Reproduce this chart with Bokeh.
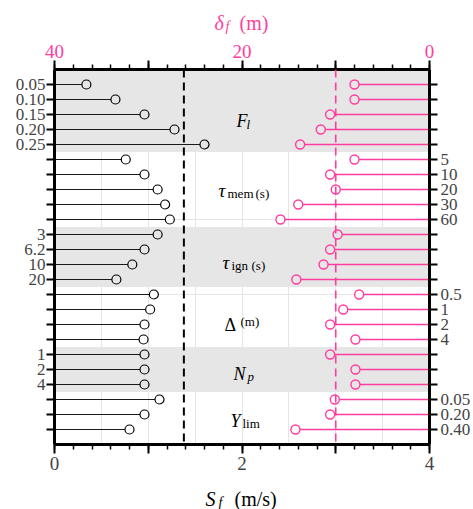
from bokeh.plotting import figure
from bokeh.layouts import column
from bokeh.models import (Range1d, LinearAxis, SingleIntervalTicker, FixedTicker,
                          CustomJSTickFormatter, Span, Label, ColumnDataSource)
from bokeh.embed import file_html
from bokeh.resources import INLINE

# ---------------- data ----------------
group_names = ["F_l", "tau_mem", "tau_ign", "Delta", "N_p", "Y_lim"]
group_sizes = [5, 5, 4, 4, 3, 3]
param_F_l = ["0.05", "0.10", "0.15", "0.20", "0.25"]
param_tau_mem = ["5", "10", "20", "30", "60"]
param_tau_ign = ["3", "6.2", "10", "20"]
param_Delta = ["0.5", "1", "2", "4"]
param_N_p = ["1", "2", "4"]
param_Y_lim = ["0.05", "0.20", "0.40"]

# flame speed S_f (m/s), one per row (top to bottom)
S_f = [0.34, 0.65, 0.96, 1.28, 1.60,
       0.76, 0.96, 1.10, 1.18, 1.23,
       1.10, 0.96, 0.83, 0.66,
       1.06, 1.02, 0.96, 0.95,
       0.96, 0.96, 0.96,
       1.12, 0.96, 0.80]
# flame thickness delta_f (m), one per row
delta_f = [8.0, 8.0, 10.6, 11.6, 13.8,
           8.0, 10.6, 10.0, 14.0, 15.9,
           9.8, 10.6, 11.3, 14.2,
           7.5, 9.2, 10.6, 7.9,
           10.6, 7.9, 7.9,
           10.1, 10.6, 14.3]
S_crit = 1.38
delta_crit = 10.0

PINK = "#ff3d9e"
GRAY = "#e6e6e6"
FONT = "Liberation Serif"

# ---------------- derived layout ----------------
rows = list(range(1, len(S_f) + 1))
left_labels = param_F_l + [""] * 5 + param_tau_ign + [""] * 4 + param_N_p + [""] * 3
right_labels = [""] * 5 + param_tau_mem + [""] * 4 + param_Delta + [""] * 3 + param_Y_lim

row_bg = []
edges = [0.0]
start = 1
for gi, n in enumerate(group_sizes):
    row_bg += [GRAY if gi % 2 == 0 else "white"] * n
    start += n
    edges.append(start - 0.5)
edges[-1] = 25.0

TOP_H, BOT_H, W = 34, 27, 473
MAIN_H = 509 - TOP_H - BOT_H

x_rng = Range1d(0, 4)
p = figure(width=W, height=MAIN_H, x_range=x_rng, y_range=Range1d(25, 0),
           output_backend="svg", toolbar_location=None, title=None,
           x_axis_location=None, y_axis_location=None,
           min_border_left=54, min_border_right=44,
           min_border_top=69 - TOP_H, min_border_bottom=MAIN_H - (444 - TOP_H))
p.extra_x_ranges = {"d": Range1d(40, 0)}
p.outline_line_color = None
p.background_fill_color = "white"
p.border_fill_color = "white"

# shaded bands
band_top = [edges[i] for i in range(0, len(group_sizes), 2)]
band_bot = [edges[i + 1] for i in range(0, len(group_sizes), 2)]
p.quad(left=0, right=4, top=band_top, bottom=band_bot, fill_color=GRAY, line_color=None)

src = ColumnDataSource(dict(row=rows, S=S_f, d=delta_f, bg=row_bg))

# reference lines
p.add_layout(Span(location=S_crit, dimension="height", line_color="black",
                  line_width=2, line_dash="8 5"))
p.add_layout(Span(location=delta_crit, dimension="height", x_range_name="d",
                  line_color=PINK, line_width=1.6, line_dash="8 5"))

# lollipops: S_f from the left
p.segment(x0=0, y0="row", x1="S", y1="row", source=src, line_color="#1a1a1a", line_width=1.2)
p.scatter(x="S", y="row", source=src, size=9, fill_color="bg", line_color="black", line_width=1.2)
# lollipops: delta_f from the right
p.segment(x0=0, y0="row", x1="d", y1="row", source=src, x_range_name="d",
          line_color=PINK, line_width=1.6)
p.scatter(x="d", y="row", source=src, x_range_name="d", size=9, fill_color="bg",
          line_color=PINK, line_width=1.4)

def style_axis(ax, size):
    ax.axis_line_width = 3
    ax.axis_line_color = "black"
    ax.major_tick_line_color = "black"
    ax.minor_tick_line_color = "black"
    ax.major_tick_line_width = 2
    ax.minor_tick_line_width = 1.5
    ax.major_tick_in = 0
    ax.minor_tick_in = 0
    ax.major_tick_out = 9
    ax.minor_tick_out = 5
    ax.major_label_text_font = FONT
    ax.major_label_text_font_size = size

bottom = LinearAxis(ticker=SingleIntervalTicker(interval=1, num_minor_ticks=5),
                    formatter=CustomJSTickFormatter(code="const t = Math.round(tick); return (t % 2 == 0) ? t.toString() : '';"))
style_axis(bottom, "19px")
bottom.major_label_standoff = 3
p.add_layout(bottom, "below")

top = LinearAxis(x_range_name="d", ticker=SingleIntervalTicker(interval=10, num_minor_ticks=5),
                 formatter=CustomJSTickFormatter(code="const t = Math.round(tick); return (t % 20 == 0) ? t.toString() : '';"))
style_axis(top, "19px")
top.major_label_text_color = PINK
top.major_label_standoff = 3
p.add_layout(top, "above")

lab_code = "const i = Math.round(tick) - 1; return (i >= 0 && i < labels.length) ? labels[i] : '';"
left = LinearAxis(ticker=FixedTicker(ticks=rows, minor_ticks=[]),
                  formatter=CustomJSTickFormatter(args=dict(labels=left_labels), code=lab_code))
style_axis(left, "17px")
left.major_tick_out = 8
left.major_label_standoff = 1
p.add_layout(left, "left")

right = LinearAxis(ticker=FixedTicker(ticks=rows, minor_ticks=[]),
                   formatter=CustomJSTickFormatter(args=dict(labels=right_labels), code=lab_code))
style_axis(right, "17px")
right.major_tick_out = 8
right.major_label_standoff = 3
p.add_layout(right, "right")

def lab(fig, text, x, y, size, style="normal", color="black"):
    fig.add_layout(Label(x=x, y=y, text=text, text_font=FONT, text_font_size=f"{size}px",
                         text_font_style=style, text_color=color,
                         text_align="left", text_baseline="alphabetic"))

# group labels inside the main frame (positions in reference pixels)
def put(text, px, py, size, style="normal", color="black"):
    lab(p, text, (px - 54) / 93.75, (py - 69) / 15.0, size, style, color)

put("F", 236, 120, 18, "italic"); put("l", 246, 124, 13, "italic")
put("τ", 218, 190, 19, "italic"); put("mem", 227, 193, 13); put("(s)", 255, 193, 13)
put("τ", 222, 262, 19, "italic"); put("ign", 231, 265, 13); put("(s)", 251, 265, 13)
put("Δ", 224, 324, 18); put("(m)", 240, 321, 13)
put("N", 233, 373, 18, "italic"); put("p", 247, 376, 13, "italic")
put("Y", 230, 420, 18, "italic"); put("lim", 242, 423, 13)

# axis-title strips (own small figures sharing the x scale)
def strip(h):
    f = figure(width=W, height=h, x_range=x_rng, y_range=Range1d(0, h),
               output_backend="svg", toolbar_location=None, title=None,
               x_axis_location=None, y_axis_location=None,
               min_border_left=54, min_border_right=44, min_border_top=0, min_border_bottom=0)
    f.outline_line_color = None
    f.background_fill_color = "white"
    f.border_fill_color = "white"
    f.grid.visible = False
    return f

top_strip = strip(TOP_H)
def put_top(text, px, py, size, style="normal"):
    lab(top_strip, text, (px - 54) / 93.75, TOP_H - py, size, style, PINK)
put_top("δ", 214, 22, 20, "italic"); put_top("f", 225, 25.5, 14, "italic"); put_top("(m)", 239, 22, 20)

bot_strip = strip(BOT_H)
def put_bot(text, px, py, size, style="normal"):
    lab(bot_strip, text, (px - 54) / 93.75, 509 - py, size, style, "black")
put_bot("S", 205, 498, 20, "italic"); put_bot("f", 218, 501.5, 14, "italic"); put_bot("(m/s)", 234, 498, 20)

layout = column(top_strip, p, bot_strip, spacing=0)
open("out.html", "w").write(file_html(layout, INLINE))
